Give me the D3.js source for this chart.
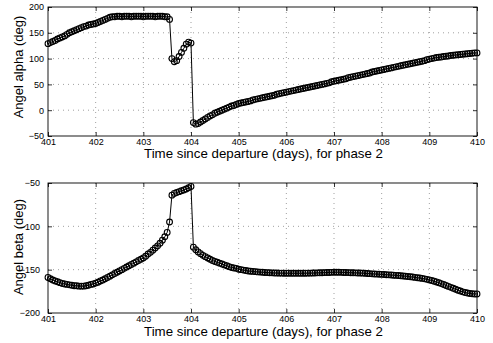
<!DOCTYPE html>
<html>
<head>
<meta charset="utf-8">
<script src="https://cdn.jsdelivr.net/npm/d3@7"></script>
<style>
  body { margin: 0; background: #fff; }
  svg { display: block; font-family: "Liberation Sans", Arial, Helvetica, sans-serif; }
</style>
</head>
<body>
<svg id="chart" width="493" height="343"></svg>
<script>
// sample grid: every 0.05 day from 401 to 410
var days = d3.range(181).map(function (i) { return +(401 + i * 0.05).toFixed(2); });

var xTicks = [401, 402, 403, 404, 405, 406, 407, 408, 409, 410];
var alphaTicks = [-50, 0, 50, 100, 150, 200];
var betaTicks = [-200, -150, -100, -50];

var alpha = [
    129, 131, 133, 135, 138, 140, 142, 144, 147, 150,
    152, 154, 156, 158, 160, 162, 163, 165, 166, 167,
    168, 170, 172, 174, 176, 178, 180, 181,
    181, 182, 182, 181, 182, 182, 182, 181, 182, 182,
    182, 182, 181, 182, 182, 182, 182, 181, 182, 182,
    182, 181, 181,
    176, 100, 94, 96, 104, 112, 120, 128, 132, 130,
    -24, -27, -26, -23, -20, -17, -14, -11, -9, -6,
    -4, -2, 0, 2, 4, 6, 8, 9, 11, 13,
    14, 15, 16, 17, 18, 20, 21, 22, 23, 24,
    25, 26, 27, 28, 29, 31, 32, 33, 34, 35,
    36, 37, 38, 39, 40, 41, 42, 43, 44, 45,
    46, 47, 48, 49, 50, 51, 52, 53, 55, 56,
    57, 58, 59, 60, 61, 63, 64, 65, 66, 67,
    68, 69, 70, 71, 72, 74, 75, 76, 77, 78,
    79, 80, 81, 82, 83, 84, 85, 86, 87, 88,
    89, 90, 91, 92, 93, 94, 95, 96, 98, 99,
    100, 101, 102, 102.5, 103, 104, 104.5, 105, 106, 106.5,
    107, 107.5, 108, 108.5, 109, 109.5, 110, 110.5, 111, 111
];

var beta = [
    -159, -160.5, -162, -163, -164, -165, -166, -166.5, -167, -167.5,
    -168, -168.5, -168.5, -169, -169, -169, -168.5, -168, -167, -166.5,
    -165.5, -164.5, -163, -162, -160.5, -159, -157.5, -156, -154.5, -153,
    -151.5, -150, -148.5, -147, -145.5, -144, -142.5, -141, -139.5, -138,
    -136.5, -134.5, -132, -130, -127.5, -125, -122.5, -119.5, -116, -112,
    -107, -95, -64, -62, -61, -60, -59, -58, -57, -55.5,
    -54, -124, -127, -129.5, -131.5, -133.5, -135, -136.5, -138, -139.5,
    -140.5, -141.5, -142.5, -143.5, -144.5, -145.5, -146.5, -147.5, -148, -148.5,
    -149.5,
    -150, -150.5, -151, -151.5, -151.8, -152, -152.3, -152.6, -152.8, -153,
    -153.2, -153.4, -153.5, -153.7, -153.8, -153.9, -154, -154, -154.1, -154.1,
    -154.1, -154.2, -154.2, -154.2, -154.2, -154.2, -154.1, -154.1, -154, -154,
    -153.9, -153.8, -153.7, -153.6, -153.5, -153.4, -153.3, -153.2, -153.1, -153,
    -153, -153, -153.1, -153.2, -153.3, -153.4, -153.5, -153.6, -153.7, -153.8,
    -153.9, -154, -154.2, -154.4, -154.6, -154.8, -155, -155.1, -155.3, -155.4,
    -155.6, -155.8, -156, -156.2, -156.4, -156.6, -156.8, -157, -157.3, -157.6,
    -157.9, -158.2, -158.5, -158.9, -159.3, -159.7, -160.1, -160.6, -161.2, -161.8,
    -162.5, -163.3, -164.2, -165.1, -166.1, -167.1, -168.2, -169.3, -170.4, -171.5,
    -172.6, -173.7, -174.7, -175.6, -176.4, -177, -177.5, -177.8, -178, -178
];

var svg = d3.select("#chart");

var x = d3.scaleLinear().domain([401, 410]).range([48, 477]);

function panel(values, yDomain, yTicks, top, bottom, ylabel, ylabelMid, yPad, xlabelY) {
    var y = d3.scaleLinear().domain(yDomain).range([bottom, top]);
    var g = svg.append("g");

    // dotted grid
    g.selectAll(".gx").data(xTicks.slice(1, -1)).enter().append("line")
        .attr("x1", function (d) { return x(d); })
        .attr("x2", function (d) { return x(d); })
        .attr("y1", top).attr("y2", bottom)
        .attr("stroke", "#777").attr("stroke-width", 0.7)
        .attr("stroke-dasharray", "1,4");
    g.selectAll(".gy").data(yTicks.slice(1, -1)).enter().append("line")
        .attr("x1", x.range()[0]).attr("x2", x.range()[1])
        .attr("y1", function (d) { return y(d); })
        .attr("y2", function (d) { return y(d); })
        .attr("stroke", "#777").attr("stroke-width", 0.7)
        .attr("stroke-dasharray", "1,4");

    // axes, ticks inward
    var xAxis = d3.axisBottom(x).tickValues(xTicks).tickSize(-4).tickPadding(3);
    var yAxis = d3.axisLeft(y).tickValues(yTicks).tickSize(-4).tickPadding(yPad);

    var gx = g.append("g")
        .attr("transform", "translate(0," + bottom + ")")
        .call(xAxis);
    var gy = g.append("g")
        .attr("transform", "translate(" + x.range()[0] + ",0)")
        .call(yAxis);
    [gx, gy].forEach(function (a) {
        a.select(".domain").remove();
        a.selectAll("line").attr("stroke", "#000").attr("stroke-width", 0.8);
        a.selectAll("text").attr("font-size", 9).attr("fill", "#000");
    });

    // top and right ticks
    g.append("g").attr("transform", "translate(0," + top + ")")
        .call(d3.axisTop(x).tickValues(xTicks).tickSize(-4).tickFormat(""))
        .call(function (a) { a.select(".domain").remove(); a.selectAll("line").attr("stroke", "#000").attr("stroke-width", 0.8); });
    g.append("g").attr("transform", "translate(" + x.range()[1] + ",0)")
        .call(d3.axisRight(y).tickValues(yTicks).tickSize(-4).tickFormat(""))
        .call(function (a) { a.select(".domain").remove(); a.selectAll("line").attr("stroke", "#000").attr("stroke-width", 0.8); });

    // box
    g.append("rect")
        .attr("x", x.range()[0]).attr("y", top)
        .attr("width", x.range()[1] - x.range()[0])
        .attr("height", bottom - top)
        .attr("fill", "none").attr("stroke", "#000").attr("stroke-width", 0.9);

    var line = d3.line()
        .x(function (d, i) { return x(days[i]); })
        .y(function (d) { return y(d); });

    g.append("path").datum(values)
        .attr("d", line)
        .attr("fill", "none").attr("stroke", "#000").attr("stroke-width", 1);

    g.selectAll(".dot").data(values).enter().append("circle")
        .attr("cx", function (d, i) { return x(days[i]); })
        .attr("cy", function (d) { return y(d); })
        .attr("r", 2.9)
        .attr("fill", "none").attr("stroke", "#000").attr("stroke-width", 1.1);

    g.append("text")
        .attr("x", (x.range()[0] + x.range()[1]) / 2 + 1)
        .attr("y", xlabelY)
        .attr("text-anchor", "middle")
        .attr("font-size", 13.3)
        .text("Time since departure (days), for phase 2");

    g.append("text")
        .attr("transform", "translate(23," + ylabelMid + ") rotate(-90)")
        .attr("text-anchor", "middle")
        .attr("font-size", 13)
        .text(ylabel);
}

panel(alpha, [-50, 200], alphaTicks, 7, 136, "Angel alpha (deg)", 67, 4, 158);
panel(beta, [-200, -50], betaTicks, 183, 313, "Angel beta (deg)", 247, 8, 336);
</script>
</body>
</html>
